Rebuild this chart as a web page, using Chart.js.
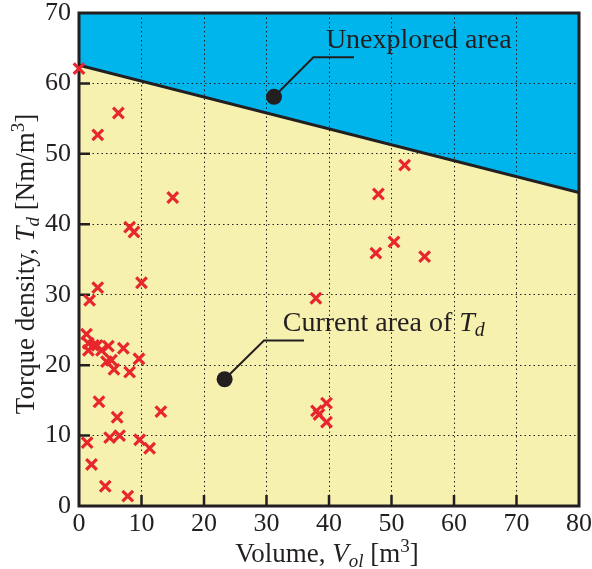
<!DOCTYPE html>
<html>
<head>
<meta charset="utf-8">
<script src="https://cdn.jsdelivr.net/npm/chart.js@4.4.1/dist/chart.umd.min.js"></script>
<style>
  html, body { margin: 0; padding: 0; background: #fff; }
  #wrap { width: 592px; height: 569px; }
</style>
</head>
<body>
<div id="wrap"><canvas id="chart"></canvas></div>
<script>
// ── Data ────────────────────────────────────────────────────────────────────
const volume = [0.0, 6.3, 3.0, 15.0, 8.1, 8.8, 10.0, 3.0, 1.7, 1.2, 1.5, 2.3, 1.5, 2.9,
                3.6, 4.7, 7.1, 4.4, 5.2, 9.6, 5.6, 8.1, 3.2, 13.1, 6.1, 4.9, 6.5, 9.7,
                11.3, 1.3, 2.0, 4.2, 7.8, 52.1, 47.9, 50.4, 47.5, 55.3, 37.9, 39.6,
                38.0, 38.4, 39.6];
const torque = [62.1, 55.8, 52.7, 43.8, 39.6, 38.9, 31.7, 31.0, 29.2, 24.4, 23.1, 22.8,
                22.1, 22.8, 22.1, 22.7, 22.4, 20.5, 20.7, 20.9, 19.4, 19.0, 14.8, 13.4,
                12.6, 9.7, 10.0, 9.4, 8.2, 9.0, 5.9, 2.8, 1.4, 48.4, 44.3, 37.5, 35.9,
                35.4, 29.5, 14.6, 13.5, 13.0, 11.9];

// frontier between current and unexplored area
const limitVol    = [0, 80];
const limitTorque = [62.6, 44.5];

const xTicks = [0, 10, 20, 30, 40, 50, 60, 70, 80];
const yTicks = [0, 10, 20, 30, 40, 50, 60, 70];

// ── Style ───────────────────────────────────────────────────────────────────
const SERIF  = "'Liberation Serif', 'Times New Roman', serif";
const INK    = '#231f20';
const BLUE   = '#00b5ec';
const YELLOW = '#f7f1b0';
const RED    = '#e8262d';

// callouts: dot (data coords), elbow (data coords), end x, label
const callouts = [
  { dot: [31.2, 58.1], elbow: [37.5, 63.7], endX: 44.0, text: [39.5, 65.0],
    runs: [{ t: 'Unexplored area' }] },
  { dot: [23.3, 18.0], elbow: [29.6, 23.5], endX: 36.0, text: [32.6, 24.8],
    runs: [{ t: 'Current area of ' }, { t: 'T', it: true }, { t: 'd', it: true, sub: true }] }
];

// draw mixed-style text runs from (x, y) along baseline
function drawRuns(ctx, runs, x, y, size) {
  let cx = x;
  runs.forEach(r => {
    const fs = (r.sub || r.sup) ? Math.round(size * 0.7) : size;
    ctx.font = `${r.it ? 'italic ' : ''}${fs}px ${SERIF}`;
    const dy = r.sub ? size * 0.18 : r.sup ? -size * 0.38 : 0;
    ctx.fillText(r.t, cx, y + dy);
    cx += ctx.measureText(r.t).width;
  });
  return cx - x;
}
function runsWidth(ctx, runs, size) {
  let w = 0;
  runs.forEach(r => {
    const fs = (r.sub || r.sup) ? Math.round(size * 0.7) : size;
    ctx.font = `${r.it ? 'italic ' : ''}${fs}px ${SERIF}`;
    w += ctx.measureText(r.t).width;
  });
  return w;
}

// ── Plugins ─────────────────────────────────────────────────────────────────
const frameTicks = {
  id: 'frameTicks',
  beforeDatasetsDraw(chart) {
    const { ctx, chartArea: a, scales: { x, y } } = chart;
    ctx.save();
    ctx.strokeStyle = INK;
    ctx.lineWidth = 2.5;
    ctx.beginPath();
    yTicks.slice(1, -1).forEach(v => {
      const py = y.getPixelForValue(v);
      ctx.moveTo(a.left, py); ctx.lineTo(a.left + 11, py);
    });
    xTicks.slice(1, -1).forEach(v => {
      const px = x.getPixelForValue(v);
      ctx.moveTo(px, a.bottom); ctx.lineTo(px, a.bottom - 11);
    });
    ctx.stroke();
    ctx.lineWidth = 3;
    ctx.strokeRect(a.left, a.top, a.right - a.left, a.bottom - a.top);
    ctx.restore();
  }
};

const calloutPlugin = {
  id: 'callouts',
  afterDatasetsDraw(chart) {
    const { ctx, scales: { x, y } } = chart;
    ctx.save();
    callouts.forEach(c => {
      const dx = x.getPixelForValue(c.dot[0]), dy = y.getPixelForValue(c.dot[1]);
      const ex = x.getPixelForValue(c.elbow[0]), ey = y.getPixelForValue(c.elbow[1]);
      ctx.strokeStyle = INK;
      ctx.lineWidth = 2;
      ctx.beginPath();
      ctx.moveTo(dx, dy); ctx.lineTo(ex, ey); ctx.lineTo(x.getPixelForValue(c.endX), ey);
      ctx.stroke();
      ctx.fillStyle = INK;
      ctx.beginPath();
      ctx.arc(dx, dy, 8, 0, Math.PI * 2);
      ctx.fill();
      ctx.textBaseline = 'alphabetic';
      ctx.textAlign = 'left';
      drawRuns(ctx, c.runs, x.getPixelForValue(c.text[0]), y.getPixelForValue(c.text[1]), 28);
    });
    ctx.restore();
  }
};

const axisTitles = {
  id: 'axisTitles',
  afterDraw(chart) {
    const { ctx } = chart;
    ctx.save();
    ctx.fillStyle = INK;
    ctx.textBaseline = 'alphabetic';
    ctx.textAlign = 'left';
    const size = 27;
    const xRuns = [{ t: 'Volume, ' }, { t: 'V', it: true }, { t: 'ol', it: true, sub: true },
                   { t: ' [m' }, { t: '3', sup: true }, { t: ']' }];
    const xw = runsWidth(ctx, xRuns, size);
    drawRuns(ctx, xRuns, 327 - xw / 2, 562, size);

    const yRuns = [{ t: 'Torque density, ' }, { t: 'T', it: true }, { t: 'd', it: true, sub: true },
                   { t: ' [Nm/m' }, { t: '3', sup: true }, { t: ']' }];
    const yw = runsWidth(ctx, yRuns, size);
    ctx.translate(34, 264);
    ctx.rotate(-Math.PI / 2);
    drawRuns(ctx, yRuns, -yw / 2, 0, size);
    ctx.restore();
  }
};

// ── Chart ───────────────────────────────────────────────────────────────────
const points = volume.map((v, i) => ({ x: v, y: torque[i] }));
const limit  = limitVol.map((v, i) => ({ x: v, y: limitTorque[i] }));

new Chart(document.getElementById('chart'), {
  type: 'scatter',
  data: {
    datasets: [
      {
        type: 'line', data: limit, fill: 'end',
        backgroundColor: BLUE, borderWidth: 0, pointRadius: 0, order: 3
      },
      {
        type: 'line', data: limit, fill: 'start',
        backgroundColor: YELLOW, borderColor: INK, borderWidth: 3, pointRadius: 0, order: 2
      },
      {
        data: points, pointStyle: 'crossRot', pointRadius: 7.5,
        borderColor: RED, borderWidth: 3.2, clip: false, order: 1
      }
    ]
  },
  options: {
    responsive: true,
    maintainAspectRatio: false,
    animation: false,
    devicePixelRatio: 1,
    layout: { padding: { top: 13, right: 13, left: 0, bottom: 0 } },
    plugins: {
      legend: { display: false },
      tooltip: { enabled: false },
      filler: { drawTime: 'beforeDraw' }
    },
    scales: {
      x: {
        type: 'linear', min: 0, max: 80,
        afterFit(s) { s.height = 63; s.paddingLeft = 0; s.paddingRight = 0; },
        afterBuildTicks(s) { s.ticks = xTicks.map(v => ({ value: v })); },
        grid: { color: INK, lineWidth: 1, drawTicks: false },
        border: { display: false, dash: [1.5, 3] },
        ticks: { color: INK, padding: 3, font: { family: SERIF, size: 26 } }
      },
      y: {
        type: 'linear', min: 0, max: 70,
        afterFit(s) { s.width = 79; s.paddingTop = 0; s.paddingBottom = 0; },
        afterBuildTicks(s) { s.ticks = yTicks.map(v => ({ value: v })); },
        grid: { color: INK, lineWidth: 1, drawTicks: false },
        border: { display: false, dash: [1.5, 3] },
        ticks: { color: INK, padding: 8, font: { family: SERIF, size: 26 } }
      }
    }
  },
  plugins: [frameTicks, calloutPlugin, axisTitles]
});
</script>
</body>
</html>
